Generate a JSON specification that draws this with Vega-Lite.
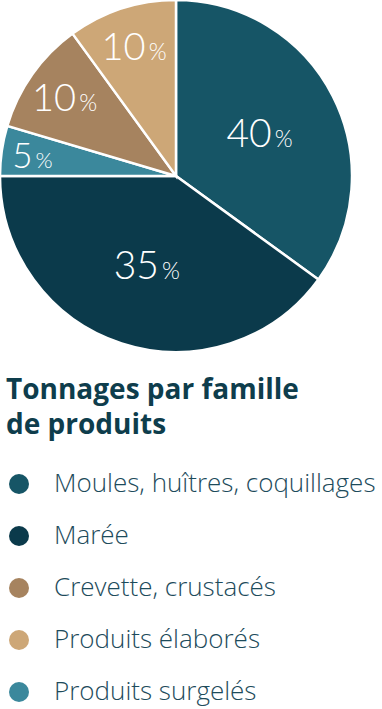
{
  "$schema": "https://vega.github.io/schema/vega-lite/v6.json",
  "width": 352,
  "height": 352,
  "padding": {"left": 0, "top": 0, "right": 30, "bottom": 357},
  "autosize": {"type": "none"},
  "background": "white",
  "config": {"view": {"stroke": null}},
  "data": {
    "values": [
      {"famille": "Moules, huîtres, coquillages", "part": 40, "secteur": 35, "ordre": 1},
      {"famille": "Marée", "part": 35, "secteur": 40, "ordre": 2},
      {"famille": "Produits surgelés", "part": 5, "secteur": 4.6, "ordre": 3},
      {"famille": "Crevette, crustacés", "part": 10, "secteur": 10.4, "ordre": 4},
      {"famille": "Produits élaborés", "part": 10, "secteur": 10, "ordre": 5}
    ]
  },
  "encoding": {
    "theta": {"field": "secteur", "type": "quantitative", "stack": true},
    "order": {"field": "ordre", "type": "quantitative"}
  },
  "layer": [
    {
      "mark": {"type": "arc", "stroke": "white", "strokeWidth": 2.5},
      "encoding": {
        "color": {
          "field": "famille",
          "type": "nominal",
          "scale": {
            "domain": ["Moules, huîtres, coquillages", "Marée", "Crevette, crustacés", "Produits élaborés", "Produits surgelés"],
            "range": ["#165566", "#0b3a4b", "#a6835f", "#cda777", "#3b889c"]
          },
          "legend": {
            "orient": "none",
            "legendX": 6,
            "legendY": 377,
            "title": ["Tonnages par famille", "de produits"],
            "titleFont": "Open Sans",
            "titleFontSize": 28,
            "titleFontWeight": "bold",
            "titleColor": "#0e3d4c",
            "titleLineHeight": 35,
            "titlePadding": 31,
            "titleLimit": 400,
            "labelFont": "Open Sans",
            "labelFontSize": 26,
            "labelFontWeight": 300,
            "labelColor": "#1d4b5b",
            "labelLimit": 400,
            "labelOffset": 22,
            "symbolType": "circle",
            "symbolSize": 400,
            "symbolStrokeWidth": 0,
            "symbolOpacity": 1,
            "rowPadding": 26
          }
        }
      }
    },
    {
      "mark": {"type": "text", "radius": 94, "align": "right", "baseline": "alphabetic", "dx": 12, "dy": 14, "font": "Lato", "fontWeight": 300, "fontSize": 39, "fill": "white"},
      "encoding": {"text": {"condition": {"test": "datum.part >= 30", "field": "part", "type": "quantitative"}, "value": ""}}
    },
    {
      "mark": {"type": "text", "radius": 94, "align": "left", "baseline": "alphabetic", "dx": 15, "dy": 14, "font": "Lato", "fontWeight": 300, "fontSize": 23, "fill": "white"},
      "encoding": {"text": {"condition": {"test": "datum.part >= 30", "value": "%"}, "value": ""}}
    },
    {
      "mark": {"type": "text", "radius": 137, "align": "right", "baseline": "alphabetic", "dx": 12, "dy": 14, "font": "Lato", "fontWeight": 300, "fontSize": 38, "fill": "white"},
      "encoding": {"text": {"condition": {"test": "datum.part >= 8 && datum.part < 30", "field": "part", "type": "quantitative"}, "value": ""}}
    },
    {
      "mark": {"type": "text", "radius": 137, "align": "left", "baseline": "alphabetic", "dx": 15, "dy": 14, "font": "Lato", "fontWeight": 300, "fontSize": 23, "fill": "white"},
      "encoding": {"text": {"condition": {"test": "datum.part >= 8 && datum.part < 30", "value": "%"}, "value": ""}}
    },
    {
      "mark": {"type": "text", "radius": 145, "align": "right", "baseline": "alphabetic", "dx": 0, "dy": 13, "font": "Lato", "fontWeight": 300, "fontSize": 35, "fill": "white"},
      "encoding": {"text": {"condition": {"test": "datum.part < 8", "field": "part", "type": "quantitative"}, "value": ""}}
    },
    {
      "mark": {"type": "text", "radius": 145, "align": "left", "baseline": "alphabetic", "dx": 3, "dy": 13, "font": "Lato", "fontWeight": 300, "fontSize": 22, "fill": "white"},
      "encoding": {"text": {"condition": {"test": "datum.part < 8", "value": "%"}, "value": ""}}
    }
  ]
}
